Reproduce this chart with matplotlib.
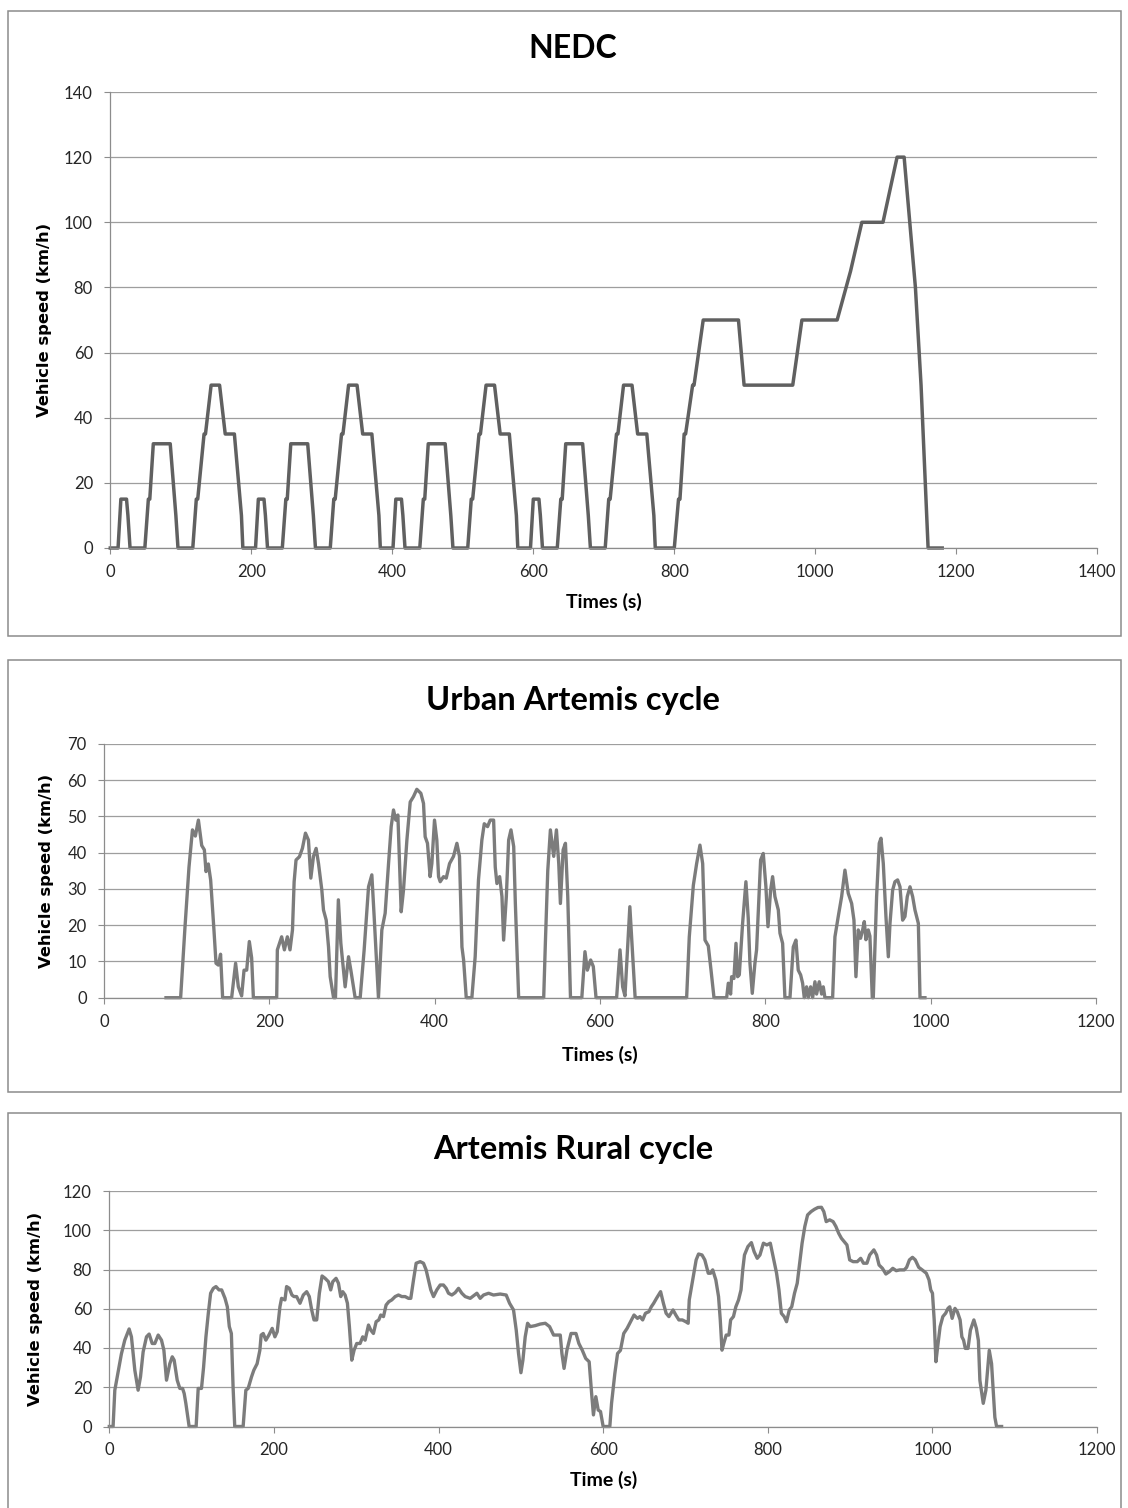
import numpy as np
import matplotlib
matplotlib.use("Agg")
import matplotlib.pyplot as plt
from matplotlib.patches import Rectangle

plt.rcParams['font.family'] = ['Lato', 'DejaVu Sans']

# NEDC: elementary urban cycle (ECE-15, repeated 4 times) + extra-urban part (EUDC)
ece_t = [0, 11, 15, 23, 25, 28, 49, 54, 56, 61, 85, 93, 96, 117, 122, 124, 133, 135,
         143, 155, 163, 176, 186, 188, 195]
ece_v = [0, 0, 15, 15, 10, 0, 0, 15, 15, 32, 32, 10, 0, 0, 15, 15, 35, 35,
         50, 50, 35, 35, 10, 0, 0]
eudc_t = [780, 800, 806, 808, 814, 816, 826, 828, 841, 891, 899, 968, 981, 1031,
          1050, 1066, 1096, 1116, 1126, 1142, 1150, 1160, 1180]
eudc_v = [0, 0, 15, 15, 35, 35, 50, 50, 70, 70, 50, 50, 70, 70,
          85, 100, 100, 120, 120, 80, 50, 0, 0]

# Urban Artemis cycle
urban_t = [75, 92.7, 98, 102.8, 107, 110.5, 114.2, 118.2, 121.4, 123.4, 126.2, 129, 133,
           135.5, 138.3, 141, 143.5, 154.4, 159.2, 162.5, 166.5, 169.4, 172.6, 175.8,
           178.6, 180.7, 208.9, 209.7, 214.9, 218.2, 221.8, 225, 228, 230, 232.3, 236.4,
           240, 243.7, 247.3, 250.2, 253.4, 256.6, 259.5, 263.5, 265.5, 268.8, 271.6,
           273.6, 277.7, 280, 283.5, 286.5, 289.5, 291.7, 295.8, 298.6, 301.8, 303.8,
           309.9, 314.7, 320, 324, 326.8, 332, 336.1, 340.1, 344.2, 347.4, 350.2, 353,
           355.5, 357.5, 359.5, 362.3, 366.4, 370.4, 374.4, 378.4, 383.3, 386.5, 388.5,
           391.3, 394.5, 396.6, 399.8, 402.6, 404.7, 406.7, 410.7, 414, 418, 422.8,
           426.9, 430, 433, 435, 438.2, 445, 449, 453, 457.1, 460, 464, 467.2, 471.3,
           473.3, 475.3, 478.6, 481.4, 483.4, 486.7, 489.5, 492.3, 495.6, 497.6, 501.6,
           531.9, 533.9, 536.8, 540, 544, 547.3, 550.1, 552.1, 555.4, 558.2, 561, 564.3,
           578, 581.8, 584.7, 588.7, 591.9, 595.2, 620.1, 624.2, 627.4, 630.2, 636.1,
           642.5, 704.8, 708, 712.9, 716.9, 720.9, 724.2, 727, 731, 734.3, 737.9, 753.2,
           755.2, 758, 759.2, 762, 764.5, 766.5, 768.5, 772.5, 776.5, 779.3, 781.4,
           784.2, 787.4, 789.4, 792.3, 794.3, 797.5, 800.7, 803.2, 806.4, 808.8, 811.6,
           815.7, 817.7, 820.9, 823.7, 829.8, 833.8, 837, 839.8, 842.7, 845.1, 847.1,
           849.9, 851.9, 854.8, 857.2, 860, 862, 865.2, 868.1, 870.1, 872.1, 881.4,
           884.2, 888.2, 892.3, 896.3, 900.3, 904.4, 907.2, 909.6, 912.4, 915.2, 917.7,
           919.7, 921.7, 924.5, 926.5, 929.4, 930.6, 934.6, 937.8, 939.9, 942.7, 945.9,
           948.8, 950.8, 954, 956.8, 960, 962.9, 966.1, 968.9, 971.7, 975, 978.2, 981,
           985.1, 987.1, 993.1]
urban_v = [0, 0, 19.6, 36, 46.3, 44.6, 49, 42, 40.8, 34.8, 36.9, 32.5, 18.7,
           9.5, 9, 12, 0, 0, 9.5, 3, 0.5, 7.6, 7.6, 15.5,
           11, 0, 0, 13.2, 16.8, 13.2, 16.8, 13.2, 18.7, 32, 38, 38.9,
           41.2, 45.4, 43.5, 33, 39, 41.2, 37, 29.7, 24.2, 21.4, 14,
           5.8, 0, 0, 27, 15, 8, 3, 11.3, 7.6, 3, 0,
           0, 13.2, 30.6, 33.9, 22.4, 0, 18.7, 23.3, 37, 47.2, 51.8, 49,
           50.4, 37, 23.7, 29.7, 43.5, 54, 55.5, 57.5, 56.4, 53.6, 44.4,
           42.6, 33.4, 37, 49, 43.5, 33.4, 32, 33.4, 33, 37, 39,
           42.6, 39, 14, 10.4, 0, 0, 11.3, 32.5, 43.5, 48, 47.2, 49, 49,
           36, 31.5, 33.4, 27.9, 15.9, 27.9, 43.5, 46.3, 41.7, 26, 0,
           0, 15, 35, 46.3, 39, 46.3, 37, 26, 40.8, 42.6, 27.9, 0,
           0, 12.7, 7.6, 10.4, 8.6, 0, 0, 13.2, 3, 0.5, 25.1,
           0, 0, 16.8, 31, 37, 42.1, 37, 15.9, 14.3, 7.6, 0, 0,
           4, 1, 5.8, 5.3, 15, 5.8, 6.3, 20.5, 32, 22, 9.5,
           1.2, 9.5, 13.2, 27.9, 38, 39.8, 30.6, 19.6, 29.7, 33.4, 27.9,
           24.2, 17.8, 15, 0, 0, 14, 15.9, 7.6, 6.3, 4, 0,
           3, 0, 3, 0, 4.4, 1, 4.4, 1, 3, 0, 0,
           16.8, 22.4, 27.9, 35.2, 28.8, 26, 21.4, 5.8, 18.7, 16.4, 18.7,
           21, 16, 18.7, 17, 0, 0, 27.9, 42.6, 44, 37, 22.4,
           11.3, 20.5, 29.7, 32, 32.5, 30.6, 21.4, 22.4, 27.9, 30.6, 27.9, 24.2,
           20.5, 0, 0]

# Artemis Rural cycle
rural_t = [0, 4.6, 6.7, 10.7, 14.7, 18.8, 24.1, 26.9, 31, 35, 37.9, 41.1, 45.2, 48.4,
           52.1, 55.3, 59.4, 63.4, 66.3, 69.5, 73.5, 76.5, 78.8, 82.5, 85.7, 89, 91, 93,
           97, 105.5, 108, 112, 114.5, 117.4, 120.3, 123.1, 126.4, 129.6, 133.3, 136.5,
           140.6, 143.4, 145.8, 148.3, 150.4, 152.4, 162.6, 165.9, 168.7, 172.8, 175.6,
           179.6, 182.9, 184.5, 187, 190.2, 193.9, 197.9, 201.2, 204, 207.3, 209.3,
           213.4, 215.4, 218.7, 221.9, 224.4, 227.6, 231.7, 235.7, 239.8, 243, 245.9,
           248.7, 252, 255.2, 258.5, 262.2, 266.2, 269, 271.5, 275.5, 278.4, 281.2,
           283.6, 286.5, 289.3, 291.7, 294.6, 297.4, 300.6, 304.7, 307.9, 310.8, 314.9,
           317.7, 320.9, 324.2, 327.4, 329.8, 333.1, 336.3, 339.6, 343.2, 347.3, 351.3,
           355.4, 359.4, 363.5, 366.3, 369.6, 372.8, 377.7, 381.7, 384.9, 387.8, 390.6,
           393.9, 397.9, 402, 406, 409.3, 412.1, 416.2, 420.2, 424.3, 428.3, 432.4,
           438.5, 446.6, 450.6, 454.7, 460.8, 466.8, 474.9, 482.2, 486.3, 491.1, 494.4,
           497.2, 500.1, 502.5, 505.3, 508.2, 511.4, 517.5, 523.6, 529.7, 534.9, 539.8,
           543.9, 547.9, 549.9, 552.5, 556, 561, 567, 570.5, 574.6, 578.8, 583, 586,
           588.2, 591.1, 594, 596.8, 600, 608.1, 610.2, 614.2, 617.5, 621, 625, 629.1,
           633.3, 637.5, 641.7, 644.7, 648, 651.4, 655.6, 658.5, 661.4, 664.8, 669.8,
           673.2, 676.5, 679.9, 684.9, 688.3, 692, 696.2, 700.4, 703.3, 704.6, 708.8,
           713, 715.9, 720.1, 723.5, 727.7, 730.6, 733.1, 736.9, 740.2, 742.3, 744.4,
           746.5, 749.5, 752.8, 754.9, 758.3, 761.2, 764.5, 767.5, 769.6, 771.7, 775.9,
           780.1, 783.4, 787.2, 790.5, 794.7, 798.9, 803.1, 806.5, 810.7, 813.6, 816.5,
           819.9, 822.8, 826.2, 829.1, 832.5, 835.8, 838.7, 841.7, 845, 848.4, 852.6,
           856.8, 861, 865.2, 868.1, 871, 875.2, 879.4, 882.8, 886.1, 889.5, 892.8,
           896.2, 899.5, 903.7, 908.7, 912.9, 916.3, 920.5, 923.8, 928.9, 932.2, 935.2,
           939.3, 943.5, 947.7, 951.9, 956.1, 960.3, 965.8, 968.7, 972.1, 975.8, 979.2,
           983.4, 987.6, 992.6, 995.9, 998, 1000.1, 1002.2, 1004.3, 1006.4, 1009.4,
           1012.7, 1016.1, 1019, 1021.1, 1024, 1027.4, 1030.3, 1033.7, 1035.8, 1037.9,
           1040, 1043.3, 1046.2, 1050.4, 1053.4, 1055.9, 1057.7, 1061.8, 1065, 1069.1,
           1071.9, 1073.9, 1075.9, 1078, 1084.1]
rural_v = [0, 0, 18.5, 27.8, 37, 44, 49.7, 45.7, 28.7, 18.5, 25.3, 38, 45.7, 47.1,
           42.3, 42.3, 46.6, 44, 38.9, 23.6, 32, 35.5, 33.8, 23.6, 19.4, 19.4, 16.8, 11.8,
           0, 0, 19.4, 19.4, 30, 45.7, 57.7, 67.9, 70.4, 71.3, 69.6, 69.6,
           65.3, 61, 50.9, 47.4, 20, 0, 0, 18.5, 19.4, 25.3, 28.7,
           32, 38.8, 46.6, 47.4, 44, 46.6, 50, 45.7, 48.3, 61, 65.3,
           64.5, 71.3, 70.4, 67, 66.2, 66.2, 62.8, 67, 68.7, 66.2, 59.4,
           54.3, 54.3, 67.9, 76.7, 75.5, 73.8, 69.6, 73.8, 75.5, 73, 66.2,
           68.7, 67, 62.8, 50.9, 33.8, 38.9, 42.3, 42.3, 45.7, 44, 51.7,
           49.1, 47.4, 53.4, 54.3, 56.8, 56, 61.9, 63.6, 64.5, 66.2, 67,
           66.2, 66.2, 65.3, 65.3, 74.7, 83.2, 84, 83.2, 79.8, 74.7, 69.6,
           66.2, 69.6, 72.1, 72.1, 70.4, 67.9, 67, 68.2, 70.4, 67.9, 66.2,
           65.3, 67.9, 65.3, 67, 67.9, 67, 67.5, 67, 62.8, 59.4, 49.1,
           37.2, 27.4, 33.8, 45.7, 52.6, 50.9, 51.4, 52.2, 52.6, 50.9, 46.6,
           46.6, 46.6, 37.2, 29.6, 38.9, 47.4, 47.4, 42.3, 38.9, 34.7, 33, 16.8,
           5.9, 15.2, 8.4, 7.6, 0, 0, 11.8, 27, 37.2, 38.8, 47.4, 50,
           53.4, 56.8, 55.1, 56, 54.3, 57.7, 58.5, 61, 62.8, 65.3, 68.7,
           62.8, 57.7, 56, 59.4, 56.8, 54.3, 54.3, 53.4, 52.6, 64.5, 74.7,
           84.9, 87.9, 87.4, 84.9, 78.1, 78.1, 79.8, 74.7, 66.2, 54.3, 38.9,
           42.3, 46.6, 46.6, 54.3, 56, 61, 64.5, 69.6, 79.8, 87.4, 91.7,
           93.7, 89.1, 85.7, 87.4, 93.4, 92.5, 93.4, 86.6, 78.1, 69.6, 57.7,
           56, 53.4, 59.4, 61, 67.9, 73, 83.2, 93.4, 101.9, 107.8, 109.5,
           110.7, 111.6, 111.7, 109.5, 104.4, 105.3, 104.4, 101.9, 98.5, 95.9, 94.2,
           92.5, 84.9, 84, 84, 85.7, 83.2, 83.2, 87.4, 90, 87.4, 82.3,
           80.6, 77.7, 78.9, 80.6, 79.4, 79.8, 79.8, 81.1, 84.9, 86.2, 84.9,
           81.1, 79.8, 78.1, 74.7, 69.6, 67.9, 54.3, 33, 40.6, 50.9,
           56, 57.7, 60.2, 61, 55.1, 60.2, 58.5, 54.3, 45.7, 44,
           39.8, 39.8, 49.1, 54.3, 50, 43.8, 23.6, 11.8, 18.5, 38.8,
           32, 18.5, 4.7, 0, 0]

# NEDC = 4 x ECE + EUDC
nedc_t = np.concatenate([np.array(ece_t) + 195 * k for k in range(4)] + [np.array(eudc_t)])
nedc_v = np.concatenate([np.array(ece_v)] * 4 + [np.array(eudc_v)])

W, H = 1128, 1508
fig = plt.figure(figsize=(W / 100, H / 100), dpi=100)

grid_c = '#9e9e9e'
axis_c = '#8c8c8c'


def px_axes(left, right, top, bottom):
    return fig.add_axes([left / W, 1 - bottom / H, (right - left) / W, (bottom - top) / H])


def style(ax, xmax, ymax, ystep, xlab, ylab_x, xlab_off):
    ax.set_xlim(0, xmax)
    ax.set_ylim(0, ymax)
    ax.set_xticks(np.arange(0, xmax + 1, 200))
    ax.set_yticks(np.arange(0, ymax + 1, ystep))
    ax.yaxis.grid(True, color=grid_c, lw=0.9)
    ax.set_axisbelow(True)
    for s in ['top', 'right']:
        ax.spines[s].set_visible(False)
    for s in ['left', 'bottom']:
        ax.spines[s].set_color(axis_c)
        ax.spines[s].set_linewidth(0.9)
    ax.tick_params(axis='both', direction='out', length=4.5, width=0.8, color=axis_c,
                   labelsize=12, labelcolor='#262626')
    ax.tick_params(axis='x', pad=7)
    ax.tick_params(axis='y', pad=8)
    ax.set_xlabel(xlab, fontsize=14, fontweight='bold', va='center')
    ax.set_ylabel('Vehicle speed (km/h)', family='DejaVu Sans', fontsize=11.8,
                  fontweight='bold', va='center')
    bb = ax.get_position()
    ax.yaxis.set_label_coords(ylab_x, 0.5)
    ax.xaxis.set_label_coords(0.5, -xlab_off / (bb.height * H))


def frame(top, bottom):
    fig.patches.append(Rectangle((8 / W, 1 - bottom / H), (1121 - 8) / W, (bottom - top) / H,
                                 transform=fig.transFigure, fill=False,
                                 edgecolor='#8c8c8c', lw=1.1))


# Panel 1: NEDC
frame(11, 636)
ax1 = px_axes(110.3, 1097.3, 92, 548)
ax1.plot(nedc_t, nedc_v, color='#606060', lw=2.5, clip_on=False, solid_joinstyle='round')
style(ax1, 1400, 140, 20, 'Times (s)', (45 - 110.3) / 987, 54)
fig.text(573 / W, 1 - 49 / H, 'NEDC', ha='center', va='center', fontsize=23, fontweight='bold')

# Panel 2: Urban Artemis
frame(660, 1092)
ax2 = px_axes(104, 1096, 744, 997.7)
ax2.plot(urban_t, urban_v, color='#7c7c7c', lw=2.4, clip_on=False, solid_joinstyle='round')
style(ax2, 1200, 70, 10, 'Times (s)', (47 - 104) / 992, 57)
fig.text(573 / W, 1 - 700 / H, 'Urban Artemis cycle', ha='center', va='center',
         fontsize=23.5, fontweight='bold')

# Panel 3: Artemis Rural
frame(1113, 1530)
ax3 = px_axes(109.3, 1097, 1191, 1426.5)
ax3.plot(rural_t, rural_v, color='#7c7c7c', lw=2.4, clip_on=False, solid_joinstyle='round')
style(ax3, 1200, 120, 20, 'Time (s)', (36 - 109.3) / 987.7, 53.5)
fig.text(573 / W, 1 - 1150 / H, 'Artemis Rural cycle', ha='center', va='center',
         fontsize=23.5, fontweight='bold')

fig.savefig('out.png', dpi=100)
